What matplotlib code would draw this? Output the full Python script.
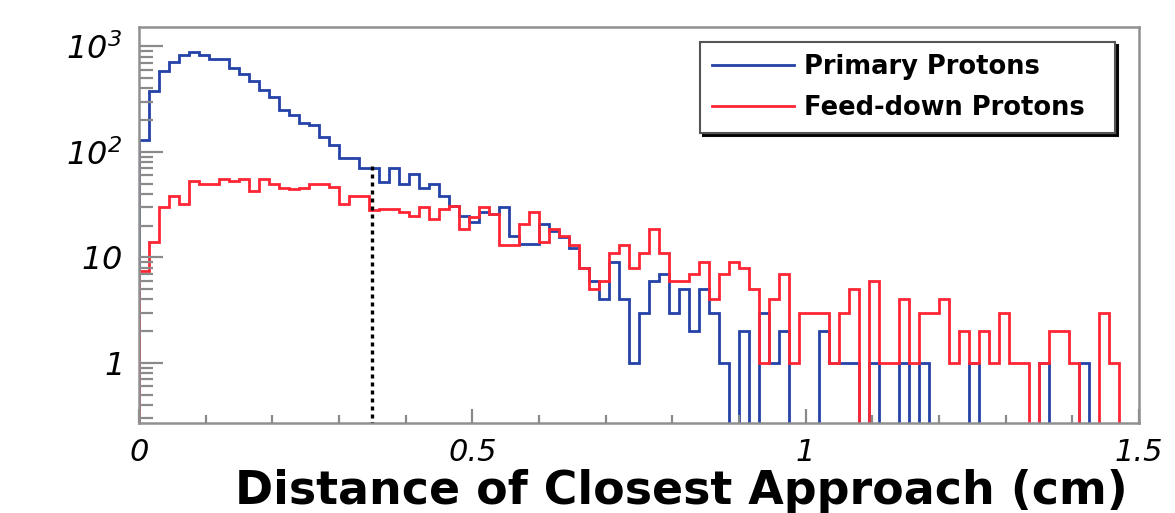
import numpy as np
import matplotlib
matplotlib.use("Agg")
import matplotlib.pyplot as plt
from matplotlib.ticker import FixedLocator, FixedFormatter, LogLocator, NullFormatter

plt.rcParams['font.family'] = ['DejaVu Sans']
plt.rcParams['mathtext.fontset'] = 'custom'
plt.rcParams['mathtext.rm'] = 'DejaVu Sans:italic'
plt.rcParams['mathtext.it'] = 'DejaVu Sans:italic'

# ---- data -------------------------------------------------------------
bin_edges = np.linspace(0.0, 1.5, 101)  # 100 bins of 0.015 cm

primary = [131, 381, 587, 720, 826, 889, 826, 768, 768, 621,
           544, 474, 387, 334, 250, 224, 189, 180, 139, 116,
           87, 87, 71, 71, 52, 70, 50, 62, 46, 50,
           38, 31, 25, 21.5, 26.7, 26, 30, 16, 13.4, 13.4,
           21, 18, 15.5, 12.4, 8, 6, 4, 9, 4, 1,
           3, 6, 7, 3, 5, 2, 5, 3, 1, 0,
           2, 0, 3, 1, 2, 0, 0, 0, 2, 1,
           1, 1, 0, 1, 0, 0, 1, 0, 1, 0,
           0, 0, 0, 1, 0, 0, 0, 0, 0, 0,
           1, 0, 0, 0, 1, 0, 0, 0, 0, 0]

feeddown = [7.5, 14, 30, 38, 32, 53, 50, 50, 56, 53,
            56, 43, 56, 50, 46, 45, 46, 50, 50, 47,
            32, 38, 38, 28, 29, 29, 27, 25, 30, 23,
            29, 31, 18.6, 24, 30, 26, 13, 13, 21, 27,
            14, 18.6, 16, 13, 8, 5, 6, 11, 13, 8,
            11, 18.6, 11, 6, 6, 7, 9, 4, 7, 9,
            8, 5, 1, 4, 7, 1, 3, 3, 3, 1,
            3, 5, 0, 6, 1, 1, 4, 1, 3, 3,
            4, 1, 2, 1, 2, 1, 3, 1, 1, 0,
            1, 2, 2, 1, 0, 0, 3, 1, 0, 0]

series_labels = ["Primary Protons", "Feed-down Protons"]
series_colors = ["#2442a8", "#ff2533"]

cut_value = 0.35
cut_height = 80

x_ticks = [0, 0.5, 1, 1.5]
x_ticklabels = ['0', '0.5', '1', '1.5']
y_ticks = [1, 10, 100, 1000]
y_ticklabels = [r'$1$', r'$10$', r'$10^{2}$', r'$10^{3}$']
x_label = "Distance of Closest Approach (cm)"

ymin, ymax = 0.27, 1530

# ---- figure -------------------------------------------------------------
W, H = 1175, 513
fig = plt.figure(figsize=(W / 100, H / 100), dpi=100)
ax = fig.add_axes([139 / W, 1 - 423 / H, 1000 / W, 396 / H])

floor = 1e-3
handles = []
for vals, col, lab in zip([primary, feeddown], series_colors, series_labels):
    v = np.asarray(vals, dtype=float)
    v = np.where(v > 0, v, floor)
    ax.stairs(v, bin_edges, baseline=floor, color=col, lw=2.0, label=lab)
    handles.append(plt.Line2D([], [], color=col, lw=2.0))

ax.vlines(cut_value, floor, cut_height, colors='black', linestyles=(0, (1.2, 1.2)), lw=2.4, zorder=3)

ax.set_yscale('log')
ax.set_xlim(0, 1.5)
ax.set_ylim(ymin, ymax)

ax.xaxis.set_major_locator(FixedLocator(x_ticks))
ax.xaxis.set_major_formatter(FixedFormatter(x_ticklabels))
ax.xaxis.set_minor_locator(FixedLocator(np.arange(0, 1.51, 0.1)))
ax.yaxis.set_major_locator(FixedLocator(y_ticks))
ax.yaxis.set_major_formatter(FixedFormatter(y_ticklabels))
ax.yaxis.set_minor_locator(LogLocator(base=10, subs=np.arange(2, 10)))
ax.yaxis.set_minor_formatter(NullFormatter())

tick_col = '#8a8a8a'
ax.tick_params(axis='both', which='both', direction='in', color=tick_col, width=1.6,
               top=False, right=False)
ax.tick_params(axis='y', which='major', length=17, pad=12.5, labelsize=23)
ax.tick_params(axis='y', which='minor', length=10)
ax.tick_params(axis='x', which='major', length=10, pad=11, labelsize=22)
ax.tick_params(axis='x', which='minor', length=6)
for lbl in ax.get_xticklabels():
    lbl.set_fontstyle('italic')

for s in ax.spines.values():
    s.set_color('#909090')
    s.set_linewidth(1.8)

ax.set_xlabel(x_label, fontsize=33, fontweight='bold')
ax.xaxis.set_label_coords((681 - 139) / 1000, (423 - 492) / 396)
ax.xaxis.label.set_va('center')

leg = ax.legend(handles, series_labels, loc='upper left',
                bbox_to_anchor=((700 - 139) / 1000, 0.0, (1115 - 700) / 1000, (423 - 42) / 396),
                mode='expand', prop={'weight': 'bold', 'size': 18.5},
                handlelength=3.2, handletextpad=0.4, labelspacing=0.62,
                borderpad=0.45, borderaxespad=0.0, fancybox=False,
                shadow={'color': 'black', 'alpha': 0.95}, framealpha=1)
leg.get_frame().set_edgecolor('#555555')
leg.get_frame().set_linewidth(1.5)

fig.savefig('out.png', dpi=100)
